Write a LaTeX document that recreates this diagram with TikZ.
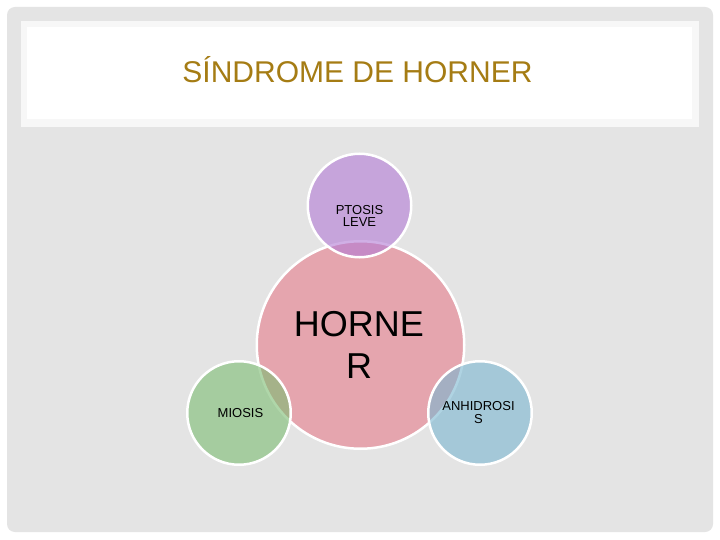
\documentclass[tikz,border=0pt]{standalone}
\usepackage{fontspec}
\setmainfont{Liberation Sans}
\definecolor{panelgrey}{HTML}{E4E4E4}
\definecolor{boxedge}{HTML}{F7F7F7}
\definecolor{titlegold}{HTML}{A57C14}
\definecolor{pinkc}{RGB}{229,165,174}
\definecolor{purplec}{RGB}{178,122,213}
\definecolor{greenc}{RGB}{123,188,113}
\definecolor{bluec}{RGB}{122,182,208}
\tikzset{
  bigcirc/.style={circle, draw=white, line width=2.5pt, fill=pinkc, minimum size=207.5pt, inner sep=0pt},
  satcirc/.style={circle, draw=white, line width=2.5pt, fill opacity=0.6, draw opacity=1, minimum size=103.5pt, inner sep=0pt},
  smalltxt/.style={font=\fontsize{13}{13}\selectfont, align=center, inner sep=0pt, text=black},
}
\begin{document}
\begin{tikzpicture}[x=1pt,y=-1pt]
\useasboundingbox (0,0) rectangle (720,540);
\fill[white] (0,0) rectangle (720,540);
\fill[panelgrey, rounded corners=8pt] (7,7) rectangle (713,532);
\fill[boxedge] (21,21) rectangle (699,127);
\fill[white] (27,27) rectangle (692,119);
\node[anchor=base, inner sep=0pt, text=titlegold, font=\fontsize{30}{30}\selectfont] (title) at (357.5,83) {SÍNDROME DE HORNER};
% circles
\node[bigcirc] (horner) at (360.5,345) {};
\node[satcirc, fill=purplec] (ptosis) at (359.5,205.5) {};
\node[satcirc, fill=greenc] (miosis) at (239,413) {};
\node[satcirc, fill=bluec] (anhid) at (480,413) {};
% texts
\node[align=center, inner sep=0pt, font=\fontsize{36}{42}\selectfont] (hornert) at (359,344.5) {HORNE\\R};
\node[smalltxt, font=\fontsize{13}{12}\selectfont] (ptosist) at (359.5,215.5) {PTOSIS\\LEVE};
\node[smalltxt] (miosist) at (240.5,413) {MIOSIS};
\node[smalltxt] (anhidt) at (478.5,413) {ANHIDROSI\\S};
\end{tikzpicture}
\end{document}
